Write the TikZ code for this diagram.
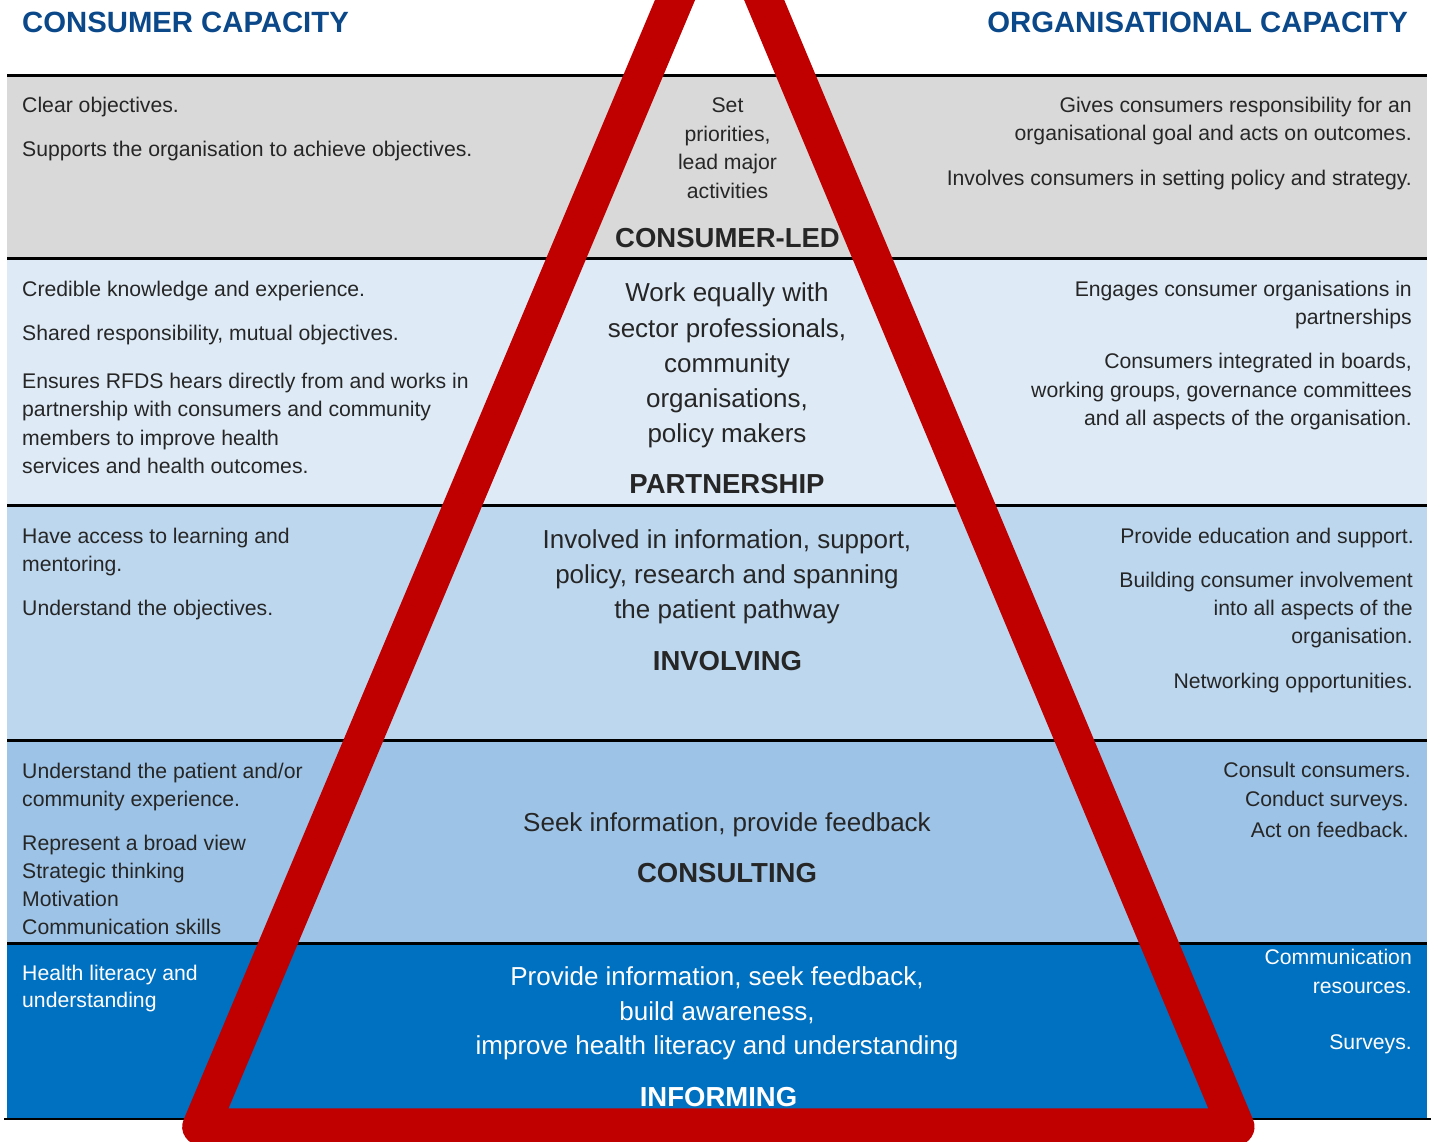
\documentclass[tikz,border=0pt]{standalone}
\usepackage{fontspec}
\setmainfont{Liberation Sans}
\definecolor{bandA}{HTML}{D9D9D9}
\definecolor{bandB}{HTML}{DEEBF7}
\definecolor{bandC}{HTML}{BDD7EE}
\definecolor{bandD}{HTML}{9DC3E6}
\definecolor{bandE}{HTML}{0070C0}
\definecolor{tri}{HTML}{C00000}
\definecolor{txt}{HTML}{262626}
\definecolor{hdrblue}{RGB}{10,72,138}
\begin{document}
\begin{tikzpicture}[x=1pt,y=-1pt,
  body/.style={font=\fontsize{21.2}{25}\selectfont, text=txt, inner sep=0pt},
  lt/.style={body, anchor=base west},
  rt/.style={body, anchor=base east},
  ct/.style={body, anchor=base},
  big/.style={font=\fontsize{26}{30}\selectfont, text=txt, inner sep=0pt, anchor=base},
  lvl/.style={font=\bfseries\fontsize{27.5}{30}\selectfont, text=txt, inner sep=0pt, anchor=base},
  hdr/.style={font=\bfseries\fontsize{29.3}{32}\selectfont, text=hdrblue, inner sep=0pt},
  rulemark/.style={line width=2.7pt, black},
  wh/.style={text=white}]
\useasboundingbox (0,0) rectangle (1431,1142);
\clip (0,0) rectangle (1431,1142);
% bands
\fill[bandA] (7,75.5) rectangle (1427,258.5);
\fill[bandB] (7,258.5) rectangle (1427,505.5);
\fill[bandC] (7,505.5) rectangle (1427,740.5);
\fill[bandD] (7,740.5) rectangle (1427,943.5);
\fill[bandE] (7,943.5) rectangle (1427,1119);
% rules
\draw[rulemark] (7,75.5) -- (1427,75.5);
\draw[rulemark] (7,258.5) -- (1427,258.5);
\draw[rulemark] (7,505.5) -- (1427,505.5);
\draw[rulemark] (7,740.5) -- (1427,740.5);
\draw[rulemark] (7,943.5) -- (1427,943.5);
\draw[rulemark] (4,1119) -- (1431,1119);
% triangle
\draw[tri, line width=37pt, line join=round] (200.7,1126.8) -- (719.7,-106.2) -- (1236,1126.8) -- cycle;
% headers
\node[hdr, anchor=base west] (h1) at (22,33) {CONSUMER CAPACITY};
\node[hdr, anchor=base east] (h2) at (1408,33) {ORGANISATIONAL CAPACITY};
% left column
\node[lt] (l1a) at (22,113) {Clear objectives.};
\node[lt] (l1b) at (22,157) {Supports the organisation to achieve objectives.};
\node[lt] (l2a) at (22,296.5) {Credible knowledge and experience.};
\node[lt] (l2b) at (22,340) {Shared responsibility, mutual objectives.};
\node[lt] (l2c) at (22,388) {Ensures RFDS hears directly from and works in};
\node[lt] (l2d) at (22,416.5) {partnership with consumers and community};
\node[lt] (l2e) at (22,445) {members to improve health};
\node[lt] (l2f) at (22,473) {services and health outcomes.};
\node[lt] (l3a) at (22,543) {Have access to learning and};
\node[lt] (l3b) at (22,571) {mentoring.};
\node[lt] (l3c) at (22,615) {Understand the objectives.};
\node[lt] (l4a) at (22,778) {Understand the patient and/or};
\node[lt] (l4b) at (22,806) {community experience.};
\node[lt] (l4c) at (22,850) {Represent a broad view};
\node[lt] (l4d) at (22,878) {Strategic thinking};
\node[lt] (l4e) at (22,906) {Motivation};
\node[lt] (l4f) at (22,934) {Communication skills};
\node[lt, wh] (l5a) at (22,980) {Health literacy and};
\node[lt, wh] (l5b) at (22,1007.5) {understanding};
% centre
\node[ct] (c1a) at (727.5,113) {Set};
\node[ct] (c1b) at (727.5,141.5) {priorities,};
\node[ct] (c1c) at (727.5,170) {lead major};
\node[ct] (c1d) at (727.5,198) {activities};
\node[lvl] (c1l) at (727.5,247) {CONSUMER-LED};
\node[big] (c2a) at (727,301.5) {Work equally with};
\node[big] (c2b) at (727,337) {sector professionals,};
\node[big] (c2c) at (727,372) {community};
\node[big] (c2d) at (727,407) {organisations,};
\node[big] (c2e) at (727,442) {policy makers};
\node[lvl] (c2l) at (727,493) {PARTNERSHIP};
\node[big] (c3a) at (727,548) {Involved in information, support,};
\node[big] (c3b) at (727,583) {policy, research and spanning};
\node[big] (c3c) at (727,618) {the patient pathway};
\node[lvl] (c3l) at (727.5,670) {INVOLVING};
\node[big] (c4a) at (727,831) {Seek information, provide feedback};
\node[lvl] (c4l) at (727,882) {CONSULTING};
\node[big, wh] (c5a) at (717,985.5) {Provide information, seek feedback,};
\node[big, wh] (c5b) at (717,1020.5) {build awareness,};
\node[big, wh] (c5c) at (717,1054.5) {improve health literacy and understanding};
\node[lvl, wh] (c5l) at (718.5,1106) {INFORMING};
% right column
\node[rt] (r1a) at (1412,113) {Gives consumers responsibility for an};
\node[rt] (r1b) at (1412,141) {organisational goal and acts on outcomes.};
\node[rt] (r1c) at (1412,185.5) {Involves consumers in setting policy and strategy.};
\node[rt] (r2a) at (1412,296.5) {Engages consumer organisations in};
\node[rt] (r2b) at (1412,324.5) {partnerships};
\node[rt] (r2c) at (1412,368.5) {Consumers integrated in boards,};
\node[rt] (r2d) at (1412,397) {working groups, governance committees};
\node[rt] (r2e) at (1412,425) {and all aspects of the organisation.};
\node[rt] (r3a) at (1414,543) {Provide education and support.};
\node[rt] (r3b) at (1413,587) {Building consumer involvement};
\node[rt] (r3c) at (1413,615) {into all aspects of the};
\node[rt] (r3d) at (1413,643) {organisation.};
\node[rt] (r3e) at (1413,688) {Networking opportunities.};
\node[rt] (r4a) at (1411,777) {Consult consumers.};
\node[rt] (r4b) at (1409,806) {Conduct surveys.};
\node[rt] (r4c) at (1409,837.5) {Act on feedback.};
\node[rt, wh] (r5a) at (1412,964.5) {Communication};
\node[rt, wh] (r5b) at (1412,993) {resources.};
\node[rt, wh] (r5c) at (1412,1049) {Surveys.};
\end{tikzpicture}
\end{document}
